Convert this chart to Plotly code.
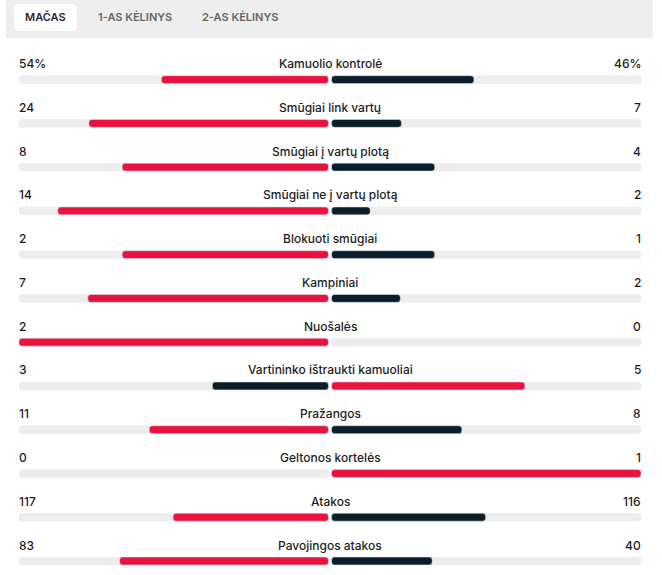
import plotly.graph_objects as go

# --- Data ---
categories = [
    "Kamuolio kontrolė",
    "Smūgiai link vartų",
    "Smūgiai į vartų plotą",
    "Smūgiai ne į vartų plotą",
    "Blokuoti smūgiai",
    "Kampiniai",
    "Nuošalės",
    "Vartininko ištraukti kamuoliai",
    "Pražangos",
    "Geltonos kortelės",
    "Atakos",
    "Pavojingos atakos",
]
home = [54, 24, 8, 14, 2, 7, 2, 3, 11, 0, 117, 83]
away = [46, 7, 4, 2, 1, 2, 0, 5, 8, 1, 116, 40]
suffix = ["%", "", "", "", "", "", "", "", "", "", "", ""]
tabs = ["MAČAS", "1-AS KĖLINYS", "2-AS KĖLINYS"]

RED = "#e8143f"
DARK = "#0b1e2a"
TRACK = "#ededed"
TEXT = "#1d1d1d"
FONT = "Inter"

gap = 0.005  # half of the small gap at the centre
rows = list(range(len(categories)))

home_frac = [h / (h + a) if (h + a) else 0 for h, a in zip(home, away)]
away_frac = [a / (h + a) if (h + a) else 0 for h, a in zip(home, away)]
home_col = [RED if h > a else DARK for h, a in zip(home, away)]
away_col = [RED if a > h else DARK for h, a in zip(home, away)]

bar_w = 0.18

fig = go.Figure()
# grey tracks
fig.add_trace(go.Bar(y=rows, x=[-(1 - gap)] * len(rows), base=[-gap] * len(rows),
                     orientation="h", width=bar_w, marker=dict(color=TRACK, cornerradius=3),
                     hoverinfo="skip"))
fig.add_trace(go.Bar(y=rows, x=[1 - gap] * len(rows), base=[gap] * len(rows),
                     orientation="h", width=bar_w, marker=dict(color=TRACK, cornerradius=3),
                     hoverinfo="skip"))
# value bars
fig.add_trace(go.Bar(y=rows, x=[-f * (1 - gap) for f in home_frac], base=[-gap] * len(rows),
                     orientation="h", width=bar_w, marker=dict(color=home_col, cornerradius=3),
                     customdata=home, hovertemplate="%{customdata}<extra></extra>"))
fig.add_trace(go.Bar(y=rows, x=[f * (1 - gap) for f in away_frac], base=[gap] * len(rows),
                     orientation="h", width=bar_w, marker=dict(color=away_col, cornerradius=3),
                     customdata=away, hovertemplate="%{customdata}<extra></extra>"))

annotations = []
for i, cat in enumerate(categories):
    annotations.append(dict(x=0, y=i, xref="x", yref="y", text=cat, showarrow=False,
                            xanchor="center", yanchor="middle", yshift=16,
                            font=dict(family=FONT, size=12, color=TEXT, weight=500)))
    annotations.append(dict(x=-1, y=i, xref="x", yref="y", text=f"{home[i]}{suffix[i]}",
                            showarrow=False, xanchor="left", yanchor="middle",
                            xshift=-2, yshift=16,
                            font=dict(family=FONT, size=12, color=TEXT, weight=500)))
    annotations.append(dict(x=1, y=i, xref="x", yref="y", text=f"{away[i]}{suffix[i]}",
                            showarrow=False, xanchor="right", yanchor="middle",
                            xshift=2, yshift=16,
                            font=dict(family=FONT, size=12, color=TEXT, weight=500)))

# tab labels (header sits above the plot area)
tab_x = [26.5, 115.5, 220.5]  # pixel offsets from plot left edge
for t, px in zip(tabs, tab_x):
    annotations.append(dict(x=0, y=1, xref="paper", yref="paper", text=t, showarrow=False,
                            xanchor="center", yanchor="middle", xshift=px, yshift=32,
                            font=dict(family=FONT, size=11, weight=600,
                                      color="#2a2a2a" if t == tabs[0] else "#666666")))

shapes = [
    # header background
    dict(type="rect", xref="paper", yref="paper", xsizemode="pixel", ysizemode="pixel",
         xanchor=0, yanchor=1, x0=-13, x1=634, y0=11, y1=49,
         fillcolor="#eeeeee", line=dict(width=0), layer="below"),
    # active tab pill
    dict(type="path", xref="paper", yref="paper", xsizemode="pixel", ysizemode="pixel",
         xanchor=0, yanchor=1,
         path="M -0 45 Q -5 45 -5 40 L -5 23 Q -5 18 0 18 L 53 18 Q 58 18 58 23 "
              "L 58 40 Q 58 45 53 45 Z",
         fillcolor="#ffffff", line=dict(width=0), layer="below"),
]

fig.update_layout(
    width=662, height=575,
    margin=dict(l=19, r=21, t=49, b=0),
    paper_bgcolor="white", plot_bgcolor="white",
    barmode="overlay", showlegend=False,
    xaxis=dict(range=[-1, 1], visible=False, fixedrange=True),
    yaxis=dict(range=[11.32, -0.7], visible=False, fixedrange=True),
    annotations=annotations, shapes=shapes,
    font=dict(family=FONT),
)

fig.write_html("out.html", config={"displayModeBar": False},
               post_script="document.body.style.margin='0';document.body.style.overflow='hidden';")
